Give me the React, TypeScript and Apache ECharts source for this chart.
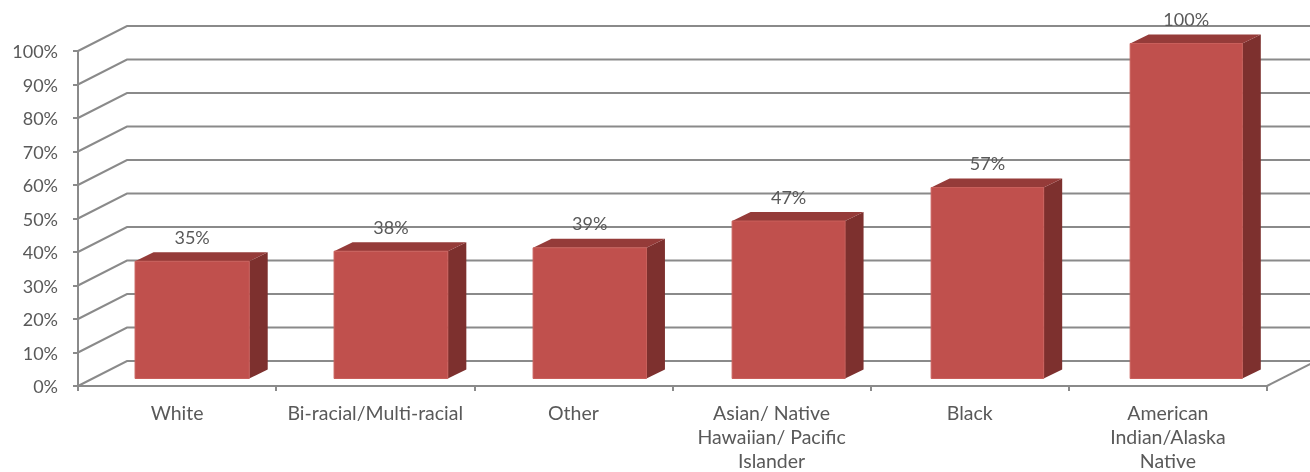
import React, { useEffect, useRef } from "react";
import * as echarts from "echarts";

const categories = [
  "White",
  "Bi-racial/Multi-racial",
  "Other",
  "Asian/ Native\nHawaiian/ Pacific\nIslander",
  "Black",
  "American\nIndian/Alaska\nNative",
];
const values = [35, 38, 39, 47, 57, 100];
const yTicks = [0, 10, 20, 30, 40, 50, 60, 70, 80, 90, 100];

const FONT = "Lato, 'Open Sans', sans-serif";
const TEXT = "#595959";
const GRID = "#8a8a8a";
const DX = 49;
const DY = -25;

export default function App() {
  const ref = useRef<HTMLDivElement>(null);
  useEffect(() => {
    const chart = echarts.init(ref.current!, null, { renderer: "svg" });
    const lineStyle = { color: GRID, width: 2 };
    chart.setOption({
      animation: false,
      grid: {
        left: 78,
        right: 43,
        top: 51,
        bottom: 86,
        containLabel: false,
        outerBoundsMode: "none",
      },
      xAxis: {
        type: "category",
        data: categories,
        boundaryGap: true,
        axisLine: { show: true, lineStyle },
        axisTick: { show: true, length: 5, interval: 0, lineStyle },
        axisLabel: {
          interval: 0,
          margin: 14,
          color: TEXT,
          fontFamily: FONT,
          fontSize: 19.5,
          lineHeight: 24,
        },
        splitLine: { show: false },
      },
      yAxis: {
        type: "value",
        min: 0,
        max: 100,
        interval: 10,
        axisLine: { show: true, lineStyle },
        axisTick: { show: true, length: 5, lineStyle },
        axisLabel: {
          formatter: "{value}%",
          margin: 20,
          color: TEXT,
          fontFamily: FONT,
          fontSize: 18,
        },
        splitLine: { show: false },
      },
      series: [
        {
          type: "custom",
          z: 1,
          silent: true,
          data: yTicks.map((t) => [0, t]),
          renderItem: (params: any, api: any) => {
            const cs = params.coordSys;
            const v = api.value(1);
            const y = api.coord([0, v])[1];
            const xl = cs.x;
            const xr = cs.x + cs.width;
            const style = { stroke: GRID, lineWidth: 2, fill: null };
            const children: any[] = [
              {
                type: "polyline",
                shape: {
                  points: [
                    [xl, y],
                    [xl + DX, y + DY],
                    [xr + DX + 30, y + DY],
                  ],
                },
                style,
              },
            ];
            if (v === 0) {
              children.push({
                type: "line",
                shape: { x1: xr, y1: y, x2: xr + DX, y2: y + DY },
                style,
              });
            }
            return { type: "group", children };
          },
        },
        {
          type: "custom",
          z: 3,
          data: values.map((v, i) => [i, v]),
          renderItem: (params: any, api: any) => {
            const i = api.value(0);
            const v = api.value(1);
            const base = api.coord([i, 0]);
            const top = api.coord([i, v]);
            const band = api.size([1, 0])[0];
            const catStart = base[0] - band / 2;
            const w = band * 0.576 - i * 0.4;
            const fx = catStart + band * 0.288 + i * 0.85;
            const sy = -7.5;
            const fyTop = top[1] + sy;
            const fyBot = base[1] + sy;
            const ddx = 18.5;
            const ddy = -9;
            return {
              type: "group",
              children: [
                {
                  type: "polygon",
                  shape: {
                    points: [
                      [fx + w, fyTop],
                      [fx + w + ddx, fyTop + ddy],
                      [fx + w + ddx, fyBot + ddy],
                      [fx + w, fyBot],
                    ],
                  },
                  style: { fill: "#7d302e" },
                },
                {
                  type: "polygon",
                  shape: {
                    points: [
                      [fx, fyTop],
                      [fx + w, fyTop],
                      [fx + w + ddx, fyTop + ddy],
                      [fx + ddx, fyTop + ddy],
                    ],
                  },
                  style: { fill: "#953b39" },
                },
                {
                  type: "rect",
                  shape: { x: fx, y: fyTop, width: w, height: fyBot - fyTop },
                  style: { fill: "#c0504d", stroke: "#c95f5b", lineWidth: 1 },
                },
                {
                  type: "text",
                  style: {
                    x: fx + w / 2,
                    y: fyTop + ddy - 15.5,
                    text: v + "%",
                    align: "center",
                    verticalAlign: "middle",
                    fill: TEXT,
                    font: "18px " + FONT,
                  },
                },
              ],
            };
          },
        },
      ],
    });
    return () => chart.dispose();
  }, []);
  return (
    <div
      ref={ref}
      style={{ position: "fixed", left: 0, top: 0, width: 1310, height: 472 }}
    />
  );
}
